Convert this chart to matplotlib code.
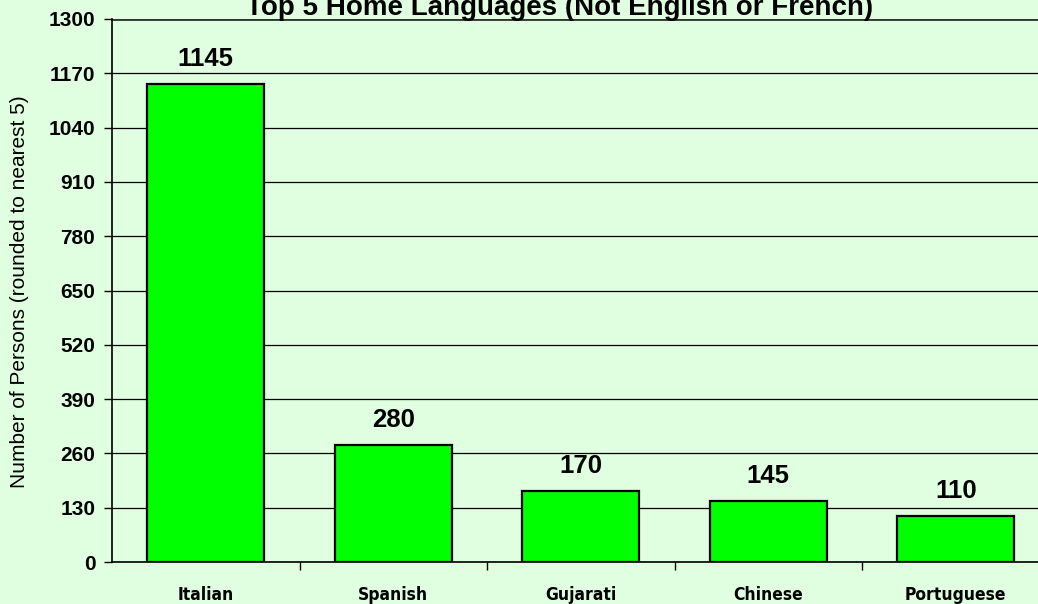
import matplotlib
matplotlib.use("Agg")
import matplotlib.pyplot as plt
from matplotlib import font_manager

languages = ["Italian", "Spanish", "Gujarati", "Chinese", "Portuguese"]
persons = [1145, 280, 170, 145, 110]
yticks = [0, 130, 260, 390, 520, 650, 780, 910, 1040, 1170, 1300]

bg = "#e0ffe0"

# look for a narrow bold face for the category labels
narrow = None
for f in font_manager.fontManager.ttflist:
    if ("Narrow" in f.name or "Condensed" in f.name or f.stretch in ("condensed", "semi-condensed")) \
            and f.weight in ("bold", 700):
        narrow = f.fname
        break
print("narrow:", narrow)

plt.rcParams["font.family"] = ["Liberation Sans", "DejaVu Sans"]

fig = plt.figure(figsize=(10.38, 6.04), dpi=100, facecolor=bg)
ax = fig.add_axes([112 / 1038, 42 / 604, 937.5 / 1038, 543 / 604], facecolor=bg)

x = list(range(len(languages)))
ax.bar(x, persons, width=0.624, color="#00ff00", edgecolor="black", linewidth=1.6, zorder=3)
for xi, v in zip(x, persons):
    ax.text(xi, v + 43, str(v), ha="center", va="baseline", fontsize=18.5, fontweight="bold", zorder=4)

ax.set_xlim(-0.5, len(languages) - 0.5)
ax.set_ylim(0, 1300)
ax.set_yticks(yticks)
ax.set_yticklabels([str(t) for t in yticks], fontsize=15, fontweight="bold")
ax.yaxis.grid(True, color="black", linewidth=0.9, zorder=0)
ax.tick_params(axis="y", length=6, width=1, direction="out", pad=6)

ax.set_xticks([i + 0.5 for i in x])
ax.set_xticklabels([])
ax.set_xticks(x, minor=True)
if narrow:
    fp = font_manager.FontProperties(fname=narrow, size=12.5)
    ax.set_xticklabels(languages, minor=True, fontproperties=fp)
else:
    ax.set_xticklabels(languages, minor=True, fontsize=12, fontweight="bold")
ax.tick_params(axis="x", which="major", length=6, width=1, direction="out")
ax.tick_params(axis="x", which="minor", length=0, pad=17.5)

for s in ["left", "bottom"]:
    ax.spines[s].set_linewidth(1.2)
ax.spines["top"].set_visible(False)
ax.spines["right"].set_visible(False)
ax.axhline(1300, color="#333333", linewidth=2, zorder=2)

fig.text(20 / 1038, 1 - 292 / 604, "Number of Persons (rounded to nearest 5)",
         rotation=90, ha="center", va="center", fontsize=15)

# title is clipped by the top edge, as in the original
fig.text(560 / 1038, 1 - 15 / 604, "Top 5 Home Languages (Not English or French)",
         ha="center", va="baseline", fontsize=20, fontweight="bold")

fig.savefig("out.png", dpi=100, facecolor=bg)
